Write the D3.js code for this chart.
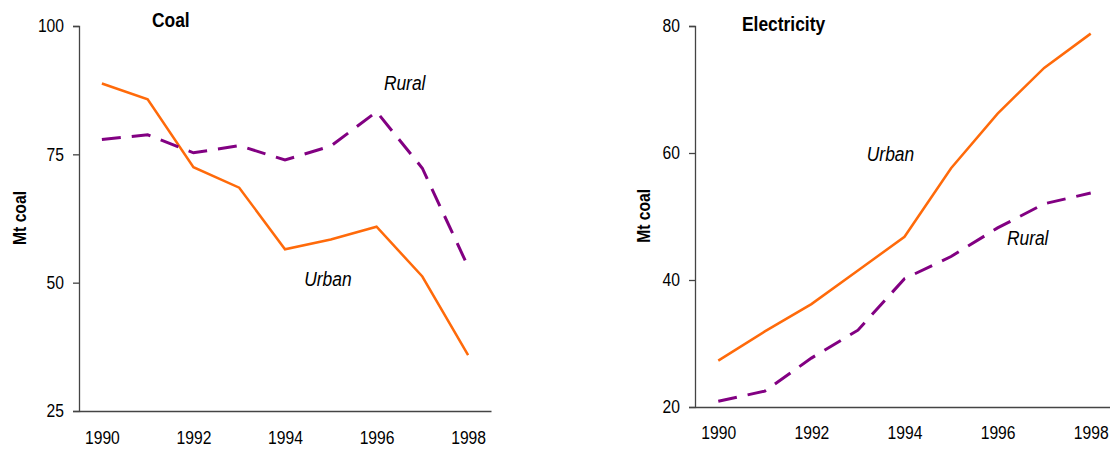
<!DOCTYPE html>
<html>
<head>
<meta charset="utf-8">
<script src="https://cdn.jsdelivr.net/npm/d3@7"></script>
<style>
    body { margin: 0; background: #fff; }
    svg text { font-family: "Liberation Sans", Arial, sans-serif; fill: #000; }
</style>
</head>
<body>
<div id="chart"></div>
<script>

// Years on the x-axis (shared by both panels)
var years = [1990, 1991, 1992, 1993, 1994, 1995, 1996, 1997, 1998];
var yearTicks = [1990, 1992, 1994, 1996, 1998];

// Coal panel values (Mt coal)
var coalUrban = [88.8, 85.7, 72.5, 68.5, 56.5, 58.4, 60.9, 51.2, 35.9];
var coalRural = [77.9, 78.8, 75.3, 76.7, 73.9, 76.6, 83.3, 72.3, 53.1];
var coalTicks = [25, 50, 75, 100];

// Electricity panel values (Mt coal)
var elecUrban = [27.3, 31.9, 36.2, 41.5, 46.8, 57.6, 66.2, 73.4, 78.8];
var elecRural = [20.9, 22.5, 27.7, 32.1, 40.2, 43.7, 48.2, 52.0, 53.7];
var elecTicks = [20, 40, 60, 80];

var orange = "#ff6a0a";
var purple = "#820082";

// Horizontal squeeze to mimic the narrow font of the original
var SQ = 0.87;

var svg = d3.select("#chart")
    .append("svg")
    .attr("width", 1110)
    .attr("height", 450);

// Places a squeezed text at (x, y)
function narrowText(g, x, y, size, str) {
    return g.append("text")
        .attr("transform", "translate(" + x + "," + y + ") scale(" + SQ + ",1)")
        .style("font-size", size + "px")
        .text(str);
}

/**
 * Draws one panel: axes, two lines, title and the two series labels.
 */
function drawPanel(p) {

    var xScale = d3.scaleLinear()
        .domain([1989.5, 1998.5])
        .range([p.left, p.right]);

    var yScale = d3.scaleLinear()
        .domain([p.ticks[0], p.ticks[p.ticks.length - 1]])
        .range([p.bottom, p.top]);

    var g = svg.append("g");

    // Y-axis with ticks pointing left
    var yAxis = g.append("g")
        .attr("transform", "translate(" + p.left + ",0)")
        .call(d3.axisLeft(yScale).tickValues(p.ticks).tickSize(6).tickPadding(9));
    yAxis.select(".domain").attr("stroke", "#444").attr("stroke-width", 1.3);
    yAxis.selectAll(".tick line").attr("stroke", "#444").attr("stroke-width", 1.3);
    yAxis.selectAll("text")
        .style("font-size", "18px")
        .attr("x", -15 / SQ)
        .attr("transform", "scale(" + SQ + ",1)");

    // X-axis with labels only (no tick marks)
    var xAxis = g.append("g")
        .attr("transform", "translate(0," + p.bottom + ")")
        .call(d3.axisBottom(xScale).tickValues(yearTicks).tickFormat(d3.format("d")).tickSize(0).tickPadding(p.xPad));
    xAxis.select(".domain").attr("stroke", "#444").attr("stroke-width", 1.3);
    xAxis.selectAll("text")
        .style("font-size", "18px")
        .attr("transform", "scale(" + SQ + ",1)");

    // Lines
    var line = d3.line()
        .x(function (d, i) { return xScale(years[i]); })
        .y(function (d) { return yScale(d); });

    g.append("path")
        .datum(p.urban)
        .attr("d", line)
        .attr("fill", "none")
        .attr("stroke", orange)
        .attr("stroke-width", 2.5);

    g.append("path")
        .datum(p.rural)
        .attr("d", line)
        .attr("fill", "none")
        .attr("stroke", purple)
        .attr("stroke-width", 3)
        .attr("stroke-dasharray", "19,11");

    // Title
    narrowText(g, p.titleX, p.titleY, 20, p.title)
        .style("font-weight", "bold");

    // Y-axis label
    g.append("text")
        .attr("transform", "translate(" + p.labelX + "," + yScale(p.labelAt) + ")rotate(-90)scale(" + SQ + ",1)")
        .attr("text-anchor", "middle")
        .style("font-size", "18px")
        .style("font-weight", "bold")
        .text("Mt coal");

    // Series labels
    narrowText(g, xScale(p.urbanLabel[0]), yScale(p.urbanLabel[1]), 20, "Urban")
        .style("font-style", "italic");
    narrowText(g, xScale(p.ruralLabel[0]), yScale(p.ruralLabel[1]), 20, "Rural")
        .style("font-style", "italic");
}

drawPanel({
    left: 79, right: 491, top: 26, bottom: 411,
    ticks: coalTicks, xPad: 20,
    urban: coalUrban, rural: coalRural,
    title: "Coal", titleX: 152, titleY: 27,
    labelX: 26, labelAt: 62.6,
    urbanLabel: [1994.42, 49.3],
    ruralLabel: [1996.16, 87.5]
});

drawPanel({
    left: 695, right: 1114, top: 26, bottom: 407,
    ticks: elecTicks, xPad: 19,
    urban: elecUrban, rural: elecRural,
    title: "Electricity", titleX: 742, titleY: 31,
    labelX: 650, labelAt: 50.1,
    urbanLabel: [1993.19, 58.7],
    ruralLabel: [1996.2, 45.5]
});

</script>
</body>
</html>
